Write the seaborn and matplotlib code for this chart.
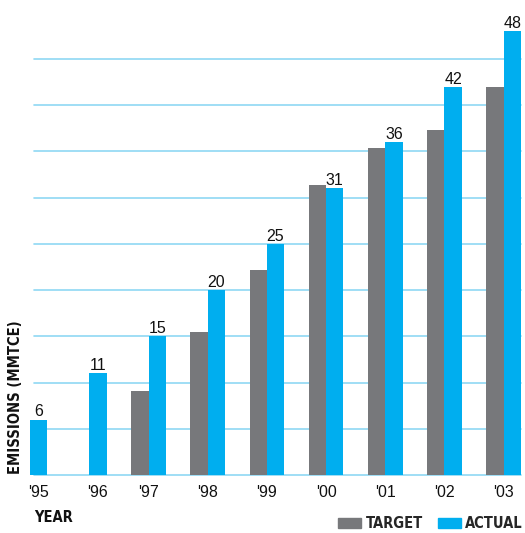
import numpy as np
import pandas as pd
import matplotlib
matplotlib.use("Agg")
import matplotlib.pyplot as plt
from matplotlib.patches import Patch
from matplotlib import font_manager
import seaborn as sns

# Emissions reductions by year (MMTCE)
years = ["'95", "'96", "'97", "'98", "'99", "'00", "'01", "'02", "'03"]
target = [np.nan, np.nan, 9.1, 15.5, 22.2, 31.3, 35.4, 37.3, 42.0]
actual = [6, 11, 15, 20, 25, 31, 36, 42, 48]
series = ["TARGET", "ACTUAL"]
grid_levels = [5, 10, 15, 20, 25, 30, 35, 40, 45]

GRAY = "#77787B"
BLUE = "#00AEEF"
GRID = "#8FD8F4"

sns.set_theme(style="white")
plt.rcParams["font.family"] = ["Liberation Sans", "DejaVu Sans"]

# bold condensed face for titles and legend
HEAD_SIZE = 10.5
_cond = [f.fname for f in font_manager.fontManager.ttflist
         if "DejaVuSansCondensed-Bold.ttf" in f.fname]
if _cond:
    HEAD = font_manager.FontProperties(fname=_cond[0], size=HEAD_SIZE)
else:
    HEAD = font_manager.FontProperties(family="DejaVu Sans", weight="bold",
                                       stretch="condensed", size=HEAD_SIZE)

df = pd.DataFrame({
    "year": years * 2,
    "value": target + actual,
    "series": [series[0]] * len(years) + [series[1]] * len(years),
})

W, H = 525, 533
fig = plt.figure(figsize=(W / 100, H / 100), dpi=100)
left_px, right_px, base_px = 29, 521, 475
ax = fig.add_axes([left_px / W, (H - base_px) / H,
                   (right_px - left_px) / W, base_px / H])

group_w = 0.585
sns.barplot(data=df, x="year", y="value", hue="series", hue_order=series,
            palette=[GRAY, BLUE], width=group_w, gap=0, errorbar=None,
            saturation=1, linewidth=0, ax=ax, legend=False)

# value labels on the actual bars
ax.bar_label(ax.containers[1], labels=[f"{v:g}" for v in actual],
             padding=0, fontsize=11.5, color="#111111")

ax.set_ylim(0, base_px / 9.25)
ax.set_xlim(-0.019, len(years) - 1 + group_w / 2)

# horizontal rules
gx0 = (34 - left_px) / (right_px - left_px)
for v in [0] + grid_levels:
    ax.axhline(v, xmin=gx0, xmax=1, color=GRID, lw=1.2, zorder=0.5,
               clip_on=False)

# tick labels centred on the bars actually present in each year
ticks = [i + (group_w / 4 if np.isnan(t) else 0) for i, t in enumerate(target)]
ax.set_xticks(ticks)
ax.set_xticklabels(years, fontsize=11.5, color="#111111")
ax.tick_params(axis="x", length=0, pad=7)
ax.set_yticks([])
ax.set_xlabel("")
ax.set_ylabel("")
for s in ax.spines.values():
    s.set_visible(False)

fig.text(34 / W, (H - 521.5) / H, "YEAR", fontproperties=HEAD,
         color="#111111", ha="left", va="baseline")
fig.text(16 / W, (H - 474) / H, "EMISSIONS (MMTCE)", fontproperties=HEAD,
         color="#111111", rotation=90, ha="center", va="bottom")

handles = [Patch(color=GRAY, label="TARGET"), Patch(color=BLUE, label="ACTUAL")]
fig.legend(handles=handles, loc="lower right",
           bbox_to_anchor=(523 / W, (H - 531) / H), ncol=2, frameon=False,
           prop=HEAD, handlelength=1.58, handleheight=0.75, handletextpad=0.32,
           columnspacing=1.0, borderpad=0, borderaxespad=0)

fig.savefig("out.png", dpi=100)
